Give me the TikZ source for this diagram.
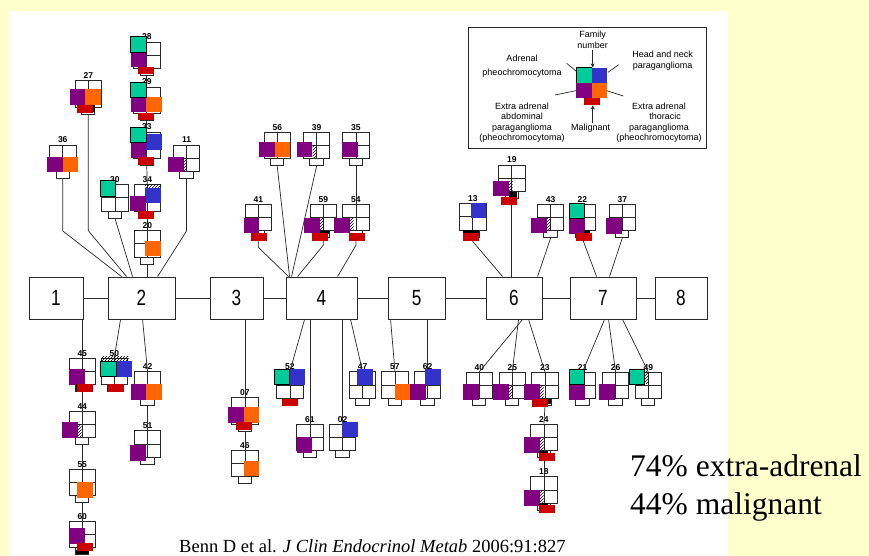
\documentclass[tikz,border=0pt]{standalone}
\usepackage{fontspec}
\setmainfont{Liberation Sans}
\newfontfamily\serifr{Liberation Serif}
\newfontfamily\narrowf[FakeStretch=0.78]{Liberation Sans}
\usetikzlibrary{calc,patterns,arrows.meta}
\definecolor{bgy}{HTML}{FFFFCC}
\definecolor{cteal}{HTML}{00CC99}
\definecolor{cpurp}{HTML}{800080}
\definecolor{corng}{HTML}{FF6600}
\definecolor{cblue}{HTML}{3333CC}
\definecolor{cred}{HTML}{CC0000}
\definecolor{ink}{HTML}{2A2A2A}
\tikzset{
 famgrid/.style={draw=ink, line width=0.9pt, minimum width=26.5pt, minimum height=26.5pt, inner sep=0pt,
   path picture={\draw[ink,line width=0.9pt] (path picture bounding box.north) -- (path picture bounding box.south)
      (path picture bounding box.west) -- (path picture bounding box.east);}},
 smallbox/.style={draw=ink, line width=0.9pt, minimum width=13.3pt, minimum height=7pt, inner sep=0pt},
 lab/.style={font=\bfseries\fontsize{8.5}{9}\selectfont, inner sep=0pt, anchor=base},
 bigbox/.style={draw=ink, line width=0.9pt, minimum height=42pt, inner sep=0pt, font=\narrowf\fontsize{22}{22}\selectfont},
 conn/.style={draw=ink, line width=0.7pt},
 legtext/.style={font=\fontsize{9}{10.5}\selectfont, align=center, inner sep=0pt},
}
\newcommand\Fu[4]{%
  \node[famgrid] (#1) at (#2+13.25,#3+13.25) {};
  \node[smallbox] (#1s) at (#2+13.25,#3+30) {};
  \node[lab] (#1l) at (#2+13.25,#3-2) {#4};}
\newcommand\Sq[3]{\fill[#1] (#2,#3) rectangle ++(15.5,15.5);}
\newcommand\Tq[2]{\fill[cteal,draw=black,line width=0.8pt] (#1,#2) rectangle ++(15.3,15.3);}
\newcommand\Rd[2]{\fill[cred] (#1,#2) rectangle ++(16,7.8);}
\newcommand\Hz[2]{\fill[pattern=north east lines] (#1,#2) rectangle ++(3.5,12);}
\newcommand\Bk[4]{\fill[black] (#1,#2) rectangle (#3,#4);}
\begin{document}
\begin{tikzpicture}[x=1pt,y=-1pt]
\useasboundingbox (0,0) rectangle (869,556);
\fill[bgy] (0,0) rectangle (869,556);
\fill[white] (9,11) rectangle (728,556);

% main row
\node[bigbox, minimum width=54] (b1) at (56,298) {1};
\node[bigbox, minimum width=67] (b2) at (141.5,298) {2};
\node[bigbox, minimum width=53] (b3) at (236.5,298) {3};
\node[bigbox, minimum width=71] (b4) at (321.5,298) {4};
\node[bigbox, minimum width=56.5] (b5) at (416.75,298) {5};
\node[bigbox, minimum width=56] (b6) at (514,298) {6};
\node[bigbox, minimum width=66] (b7) at (603,298) {7};
\node[bigbox, minimum width=52] (b8) at (681,298) {8};
\draw[conn] (b1) -- (b2); \draw[conn] (b2) -- (b3); \draw[conn] (b3) -- (b4);
\draw[conn] (b4) -- (b5); \draw[conn] (b5) -- (b6); \draw[conn] (b6) -- (b7);
\draw[conn] (b7) -- (b8);

% family units
\Fu{u28}{133.5}{42}{28}
\Fu{u29}{133.5}{87}{29}
\Fu{u33}{133.5}{132}{33}
\Fu{u34}{134}{184.5}{34}
\Fu{u20}{134}{230.5}{20}
\Fu{u27}{75}{80.7}{27}
\Fu{u36}{49.5}{145}{36}
\Fu{u30}{101.7}{184.5}{30}
\Fu{u11}{173.3}{145}{11}
\Fu{u56}{264}{132.3}{56}
\Fu{u39}{303.3}{132.3}{39}
\Fu{u35}{342.7}{132.3}{35}
\Fu{u41}{245}{204.3}{41}
\Fu{u59}{310}{204.3}{59}
\Fu{u54}{342.7}{204.3}{54}
\Fu{u19}{498.5}{165}{19}
\Fu{u13}{459.5}{203.5}{13}
\Fu{u43}{537.3}{204.3}{43}
\Fu{u22}{569}{204.3}{22}
\Fu{u37}{609}{204.3}{37}
\Fu{u45}{69}{358.3}{45}
\Fu{u50}{101}{358.3}{50}
\Fu{u42}{134.3}{371.7}{42}
\Fu{u51}{134.3}{430.7}{51}
\Fu{u44}{69}{411}{44}
\Fu{u55}{69}{469.3}{55}
\Fu{u60}{69}{521}{60}
\Fu{u07}{231.7}{397.7}{07}
\Fu{u46}{231.7}{450}{46}
\Fu{u52}{276.7}{371.7}{52}
\Fu{u61}{296.7}{424}{61}
\Fu{u02}{329.3}{424}{02}
\Fu{u47}{349.3}{371.7}{47}
\Fu{u57}{381.7}{371.7}{57}
\Fu{u62}{414.3}{371.7}{62}
\Fu{u40}{466}{372.3}{40}
\Fu{u25}{499}{372.3}{25}
\Fu{u23}{531.7}{372.3}{23}
\Fu{u24}{530.7}{424}{24}
\Fu{u18}{530.7}{476.7}{18}
\Fu{u21}{569.3}{372.3}{21}
\Fu{u26}{602.3}{372.3}{26}
\Fu{u49}{635}{372.3}{49}

% connectors above box 2
\draw[conn] (u28s.south) -- (u29.north);
\draw[conn] (u29s.south) -- (u33.north);
\draw[conn] (u33s.south) -- (u34.north);
\draw[conn] (u34s.south) -- (u20.north);
\draw[conn] (u20s.south) -- (u20s.south |- b2.north);
\draw[conn] (u36s.south) -- ++(0,52) -- ($(b2.north west)+(14,0)$);
\draw[conn] (u27s.south) -- ++(0,116) -- ($(b2.north west)+(19,0)$);
\draw[conn] (u30s.south) -- ($(b2.north west)+(25,0)$);
\draw[conn] (u11s.south) -- ++(0,52) -- ($(b2.north west)+(50,0)$);
% above box 4
\draw[conn] (u56s.south) -- ($(b4.north west)+(4,0)$);
\draw[conn] (u39s.south) -- ($(b4.north west)+(6,0)$);
\draw[conn] (u35s.south) -- (u54.north);
\draw[conn] (u41s.south) -- ++(0,9) -- ($(b4.north west)+(3,0)$);
\draw[conn] (u59s.south) -- ++(0,7) -- ($(b4.north west)+(12,0)$);
\draw[conn] (u54s.south) -- ++(0,7) -- ($(b4.north west)+(52,0)$);
% above box 6 and 7
\draw[conn] (u13s.south) -- ++(0,4) -- ($(b6.north west)+(17,0)$);
\draw[conn] (u19s.south) -- (u19s.south |- b6.north);
\draw[conn] (u43s.south) -- ($(b6.north west)+(52,0)$);
\draw[conn] (u22s.south) -- ($(b7.north west)+(27,0)$);
\draw[conn] (u37s.south) -- ($(b7.north west)+(40,0)$);
% below
\draw[conn] (u45.north |- b1.south) -- (u45.north);
\draw[conn] (u45s.south) -- (u44.north);
\draw[conn] (u44s.south) -- (u55.north);
\draw[conn] (u55s.south) -- (u60.north);
\draw[conn] ($(b2.south west)+(13,0)$) -- (u50.north);
\draw[conn] ($(b2.south west)+(35,0)$) -- (u42.north);
\draw[conn] (u42s.south) -- (u51.north);
\draw[conn] (u07.north |- b3.south) -- (u07.north);
\draw[conn] (u07s.south) -- (u46.north);
\draw[conn] ($(b4.south west)+(19,0)$) -- (u52.north);
\draw[conn] (u61.north |- b4.south) -- (u61.north);
\draw[conn] (u02.north |- b4.south) -- (u02.north);
\draw[conn] ($(b4.south west)+(65,0)$) -- (u47.north);
\draw[conn] ($(b5.south west)+(2.5,0)$) -- (u57.north);
\draw[conn] (u62.north |- b5.south) -- (u62.north);
\draw[conn] ($(b6.south west)+(37,0)$) -- (u40.north);
\draw[conn] ($(b6.south west)+(33,0)$) -- (u25.north);
\draw[conn] ($(b6.south west)+(43,0)$) -- (u23.north);
\draw[conn] (u23s.south) -- (u24.north);
\draw[conn] (u24s.south) -- (u18.north);
\draw[conn] ($(b7.south west)+(35,0)$) -- (u21.north);
\draw[conn] ($(b7.south west)+(39,0)$) -- (u26.north);
\draw[conn] ($(b7.south west)+(53,0)$) -- (u49.north);

% colour overlays
\Sq{cpurp}{130.7}{51.5} \Tq{130.7}{36.7} \Rd{137.7}{66.7}
\Sq{cpurp}{130.7}{97} \Sq{corng}{146}{97} \Tq{130.7}{82} \Rd{137.7}{112.7}
\Sq{cblue}{146}{134.5} \Sq{cpurp}{130.7}{142.5} \Tq{130.7}{127.3} \Rd{137.7}{157.3}
\fill[pattern=north east lines] (145,184) rectangle (161,187.5);
\Sq{cblue}{145.3}{187.5} \Sq{cpurp}{130}{195.5} \Rd{137.7}{210.7}
\Sq{corng}{145.3}{240.5}
\Sq{cpurp}{70}{89.5} \Sq{corng}{85}{89.5} \Rd{77.3}{105} \Bk{93}{105}{95}{112}
\Sq{cpurp}{47}{157} \Sq{corng}{62.5}{157}
\Tq{100.3}{180.7}
\Sq{cpurp}{168}{157} \Hz{183.5}{159}
\Sq{cpurp}{259.3}{142} \Sq{corng}{274.5}{142}
\Sq{cpurp}{296.7}{142} \Hz{312.5}{146}
\Sq{cpurp}{342}{142}
\Sq{cpurp}{243.7}{217.7} \Rd{251}{233.3}
\Sq{cpurp}{304}{217.7} \Hz{320}{218} \Bk{320}{230.5}{329}{234} \Rd{311.7}{233.3}
\Sq{cpurp}{334}{217.7} \Hz{350}{218} \Rd{349}{233.3}
\Sq{cpurp}{493}{180.5} \Hz{509}{181} \Bk{509}{191.5}{517}{197} \Rd{501}{196.7}
\Sq{cblue}{470.7}{202.5} \Bk{463}{230}{479}{233.5} \Rd{463}{233.3}
\Sq{cpurp}{531}{217.7} \Hz{547}{218}
\Sq{cpurp}{569}{218} \Tq{569}{203.3} \Bk{584}{230}{590}{234} \Rd{576}{233.3}
\Sq{cpurp}{606.3}{218}
\Sq{cpurp}{69}{369.3} \Bk{75.5}{384}{78}{392} \Rd{77.3}{384}
\fill[pattern=north east lines] (101,356.5) rectangle (128.5,360);
\Sq{cblue}{116}{361} \Tq{100.7}{361} \Rd{107.7}{384.3}
\Sq{cpurp}{130.5}{384.3} \Sq{corng}{146.3}{384.3}
\Sq{cpurp}{130}{445}
\Sq{cpurp}{62}{422} \Hz{78}{424}
\Sq{corng}{77}{482}
\Sq{cpurp}{69}{528.3} \Bk{76}{550}{89}{554} \Rd{77.3}{542.7}
\Sq{cpurp}{228.3}{407} \Sq{corng}{243.7}{407} \Rd{236}{421.7}
\Sq{corng}{243.7}{460.5}
\Sq{cblue}{289.5}{369} \Tq{274.3}{369} \Rd{281.7}{398.5}
\Sq{cpurp}{296.7}{437}
\Sq{cblue}{342}{421.5}
\Sq{cblue}{357.3}{369}
\Sq{corng}{395}{384}
\Sq{cblue}{425}{369} \Sq{cpurp}{410}{384}
\Sq{cpurp}{463}{384.3}
\Sq{cpurp}{493}{384.3} \Hz{509}{385}
\Sq{cpurp}{524}{384.3} \Hz{540}{385} \Bk{547.3}{399}{551}{404} \Rd{531.7}{399}
\Sq{cpurp}{524}{437.3} \Hz{540}{438} \Bk{538.7}{450.5}{548}{454} \Rd{538.7}{453.3}
\Sq{cpurp}{524}{490.3} \Hz{540}{491} \Bk{538.7}{503}{548}{506} \Rd{538.7}{505}
\Sq{cpurp}{569.3}{384.7} \Tq{569.3}{369.3}
\Sq{cpurp}{599}{384.3}
\Hz{645}{371} \Tq{629.3}{369.3}

% legend
\node[draw=ink, line width=0.9pt, minimum width=238pt, minimum height=121pt, inner sep=0pt] (legend) at (587,87.5) {};
\node[minimum width=30.6pt, minimum height=30pt, inner sep=0pt] (lgu) at (591.5,82.7) {};
\fill[cteal] (576.3,67.7) rectangle (591.7,82.7);
\draw[black, line width=0.9pt] (576.3,82.7) -- (576.3,67.7) -- (591.7,67.7);
\fill[cblue] (591.7,67.7) rectangle (606.7,82.7);
\fill[cpurp] (576.3,82.7) rectangle (591.7,97.7);
\fill[corng] (591.7,82.7) rectangle (606.7,97.7);
\node[fill=cred, minimum width=16pt, minimum height=7.5pt, inner sep=0pt] (lgr) at (592,101.45) {};
\node[legtext, font=\fontsize{9}{11.5}\selectfont] (famnum) at (592.5,40) {Family\\number};
\node[legtext, font=\fontsize{9}{13.5}\selectfont] (adr) at (522,66) {Adrenal\\pheochromocytoma};
\node[legtext, font=\fontsize{9}{11}\selectfont] (hnp) at (662.7,60.5) {Head and neck\\paraganglioma};
\node[legtext] (eaa) at (522,122.5) {Extra adrenal\\abdominal\\paraganglioma\\(pheochromocytoma)};
\node[legtext] (eat) at (659,122.5) {Extra adrenal\\\hspace*{12pt}thoracic\\paraganglioma\\(pheochromocytoma)};
\node[legtext] (malig) at (590.7,128) {Malignant};
\draw[ink, line width=0.8pt, -{Stealth[length=4pt,width=4pt]}] (famnum.south -| lgr.north) ++(0.7,1) -- ($(lgu.north)+(1.2,0)$);
\draw[ink, line width=0.8pt, -{Stealth[length=4pt,width=4pt]}] ($(malig.north)+(2,-1)$) -- ($(lgr.south)+(0.7,0)$);
\draw[ink, line width=0.7pt] (566.7,63.3) -- (576.7,71.7);
\draw[ink, line width=0.7pt] (608,72.3) -- (618.7,64.7);
\draw[ink, line width=0.7pt] (555,95) -- (576,90.7);
\draw[ink, line width=0.7pt] (606.7,90.7) -- (623.3,96);

% texts
\node[anchor=base west, inner sep=0pt, font=\serifr\fontsize{31.5}{36}\selectfont] (pct1) at (630,476) {74\% extra-adrenal};
\node[anchor=base west, inner sep=0pt, font=\serifr\fontsize{31.5}{36}\selectfont] (pct2) at (630,514) {44\% malignant};
\node[anchor=base west, inner sep=0pt, font=\serifr\fontsize{18.5}{18.5}\selectfont] (cite) at (179,552) {Benn D et al. \textit{J Clin Endocrinol Metab} 2006:91:827};
\end{tikzpicture}
\end{document}
